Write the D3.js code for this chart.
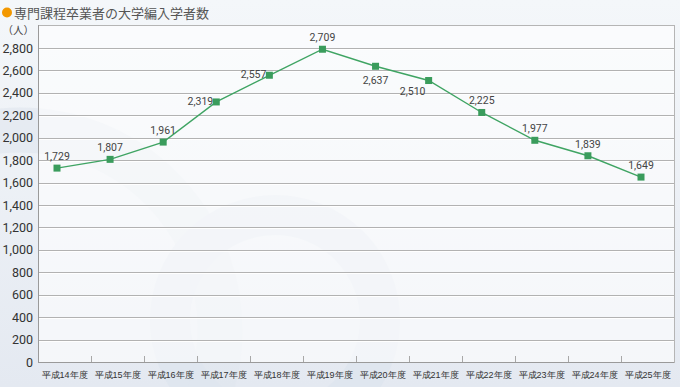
<!DOCTYPE html>
<html>
<head>
<meta charset="utf-8">
<script src="https://cdn.jsdelivr.net/npm/d3@7"></script>
<style>
  body { margin: 0; background: #eef2f7; }
  svg { display: block; font-family: "Noto Sans CJK JP", "Noto Sans", sans-serif; }
</style>
</head>
<body>
<div id="chart"></div>
<script>
var categories = ['平成14年度', '平成15年度', '平成16年度', '平成17年度', '平成18年度', '平成19年度',
	'平成20年度', '平成21年度', '平成22年度', '平成23年度', '平成24年度', '平成25年度'];
// plotted positions (the 19年度 marker sits near 2,790 in the original)
var values = [1729, 1807, 1961, 2319, 2557, 2789, 2637, 2510, 2225, 1977, 1839, 1649];
var labels = ['1,729', '1,807', '1,961', '2,319', '2,557', '2,709', '2,637', '2,510', '2,225', '1,977', '1,839', '1,649'];
var labelSide = ['top', 'top', 'top', 'left', 'left', 'top', 'bottom', 'bottomleft', 'top', 'top', 'top', 'top'];
var yTicks = [0, 200, 400, 600, 800, 1000, 1200, 1400, 1600, 1800, 2000, 2200, 2400, 2600, 2800];

var width = 680, height = 387;
var plotLeft = 38, plotRight = 674, plotTop = 25, plotBottom = 362;

var svg = d3.select('#chart').append('svg')
	.attr('width', width)
	.attr('height', height);

var defs = svg.append('defs');
var bg = defs.append('linearGradient').attr('id', 'bg').attr('x1', 0).attr('y1', 0).attr('x2', 0).attr('y2', 1);
bg.append('stop').attr('offset', '0%').attr('stop-color', '#f4f7fa');
bg.append('stop').attr('offset', '100%').attr('stop-color', '#e4e9f1');

svg.append('rect').attr('width', width).attr('height', height).style('fill', 'url(#bg)');

// faint decorative rings behind the chart
svg.append('circle').attr('cx', 275).attr('cy', 320).attr('r', 105)
	.style('fill', 'none').style('stroke', '#dde4ee').style('stroke-width', 40).style('opacity', 0.7);
svg.append('circle').attr('cx', 20).attr('cy', 330).attr('r', 200)
	.style('fill', 'none').style('stroke', '#dfe6ef').style('stroke-width', 45).style('opacity', 0.6);

var x = d3.scaleBand().domain(categories).range([plotLeft, plotRight]);
var xp = d3.scalePoint().domain(categories).range([57, 641]);
var y = d3.scaleLinear().domain([0, 2800]).range([plotBottom, plotTop + 23]);

// plot box
svg.append('rect')
	.attr('x', plotLeft + 0.5).attr('y', plotTop + 0.5)
	.attr('width', plotRight - plotLeft).attr('height', plotBottom - plotTop)
	.style('fill', '#ffffff').style('fill-opacity', 0.6)
	.style('stroke', '#b5b5b5').style('stroke-width', 1);

svg.selectAll('line.grid')
	.data(yTicks.slice(1))
	.enter()
	.append('line')
	.attr('class', 'grid')
	.attr('x1', plotLeft).attr('x2', plotRight)
	.attr('y1', function(d) { return Math.round(y(d)) + 0.5; })
	.attr('y2', function(d) { return Math.round(y(d)) + 0.5; })
	.style('stroke', '#b2b2b2').style('stroke-width', 1);

svg.selectAll('line.gridHi')
	.data(yTicks.slice(1))
	.enter()
	.append('line')
	.attr('class', 'gridHi')
	.attr('x1', plotLeft + 1).attr('x2', plotRight)
	.attr('y1', function(d) { return Math.round(y(d)) + 1.5; })
	.attr('y2', function(d) { return Math.round(y(d)) + 1.5; })
	.style('stroke', '#ffffff').style('stroke-width', 1);

// axes
var yAxis = svg.append('g')
	.attr('transform', 'translate(' + plotLeft + ',0)')
	.call(d3.axisLeft(y).tickValues(yTicks).tickSize(0).tickPadding(5).tickFormat(d3.format(',')));
yAxis.select('.domain').attr('d', 'M0.5,' + plotTop + 'V' + plotBottom).style('stroke', '#9a9a9a');
yAxis.selectAll('text').style('font-size', '12.5px').style('fill', '#333')
	.style('font-family', 'Roboto, "Liberation Sans", sans-serif');

var xAxis = svg.append('g')
	.attr('transform', 'translate(0,' + plotBottom + ')')
	.call(d3.axisBottom(x).tickSize(0).tickPadding(10));
xAxis.select('.domain').attr('d', 'M' + plotLeft + ',0.5H' + plotRight).style('stroke', '#9a9a9a');
xAxis.selectAll('text').style('font-size', '9px').style('fill', '#333');

svg.selectAll('line.xtick')
	.data(categories.slice(1))
	.enter()
	.append('line')
	.attr('class', 'xtick')
	.attr('x1', function(d) { return Math.round(x(d)) + 0.5; })
	.attr('x2', function(d) { return Math.round(x(d)) + 0.5; })
	.attr('y1', plotBottom - 6).attr('y2', plotBottom)
	.style('stroke', '#a8a8a8');

// titles
svg.append('circle').attr('cx', 7).attr('cy', 12.5).attr('r', 5).style('fill', '#f39800');
svg.append('text').attr('x', 14).attr('y', 18)
	.text('専門課程卒業者の大学編入学者数')
	.style('font-size', '13px').style('fill', '#555');
svg.append('text').attr('x', 34).attr('y', 34).attr('text-anchor', 'end')
	.text('（人）')
	.style('font-size', '10.5px').style('fill', '#444');

// series
var line = d3.line()
	.x(function(d, i) { return xp(categories[i]); })
	.y(function(d) { return y(d); });

svg.append('path')
	.datum(values)
	.attr('d', line)
	.style('fill', 'none').style('stroke', '#3fa463').style('stroke-width', 1.4);

svg.selectAll('rect.marker')
	.data(values)
	.enter()
	.append('rect')
	.attr('class', 'marker')
	.attr('x', function(d, i) { return xp(categories[i]) - 3.5; })
	.attr('y', function(d) { return y(d) - 3.5; })
	.attr('width', 7).attr('height', 7)
	.style('fill', '#3a9c5c');

svg.selectAll('text.value')
	.data(values)
	.enter()
	.append('text')
	.attr('class', 'value')
	.text(function(d, i) { return labels[i]; })
	.attr('x', function(d, i) {
		var px = xp(categories[i]);
		if (labelSide[i] === 'left') return px - 3;
		if (labelSide[i] === 'bottomleft') return px - 16;
		return px;
	})
	.attr('y', function(d, i) {
		var py = y(d);
		if (labelSide[i] === 'left') return py + 3;
		if (labelSide[i] === 'bottom') return py + 18;
		if (labelSide[i] === 'bottomleft') return py + 14;
		return py - 8;
	})
	.attr('text-anchor', function(d, i) { return labelSide[i] === 'left' ? 'end' : 'middle'; })
	.style('font-size', '10.5px').style('fill', '#444')
	.style('font-family', 'Roboto, "Liberation Sans", sans-serif');
</script>
</body>
</html>
